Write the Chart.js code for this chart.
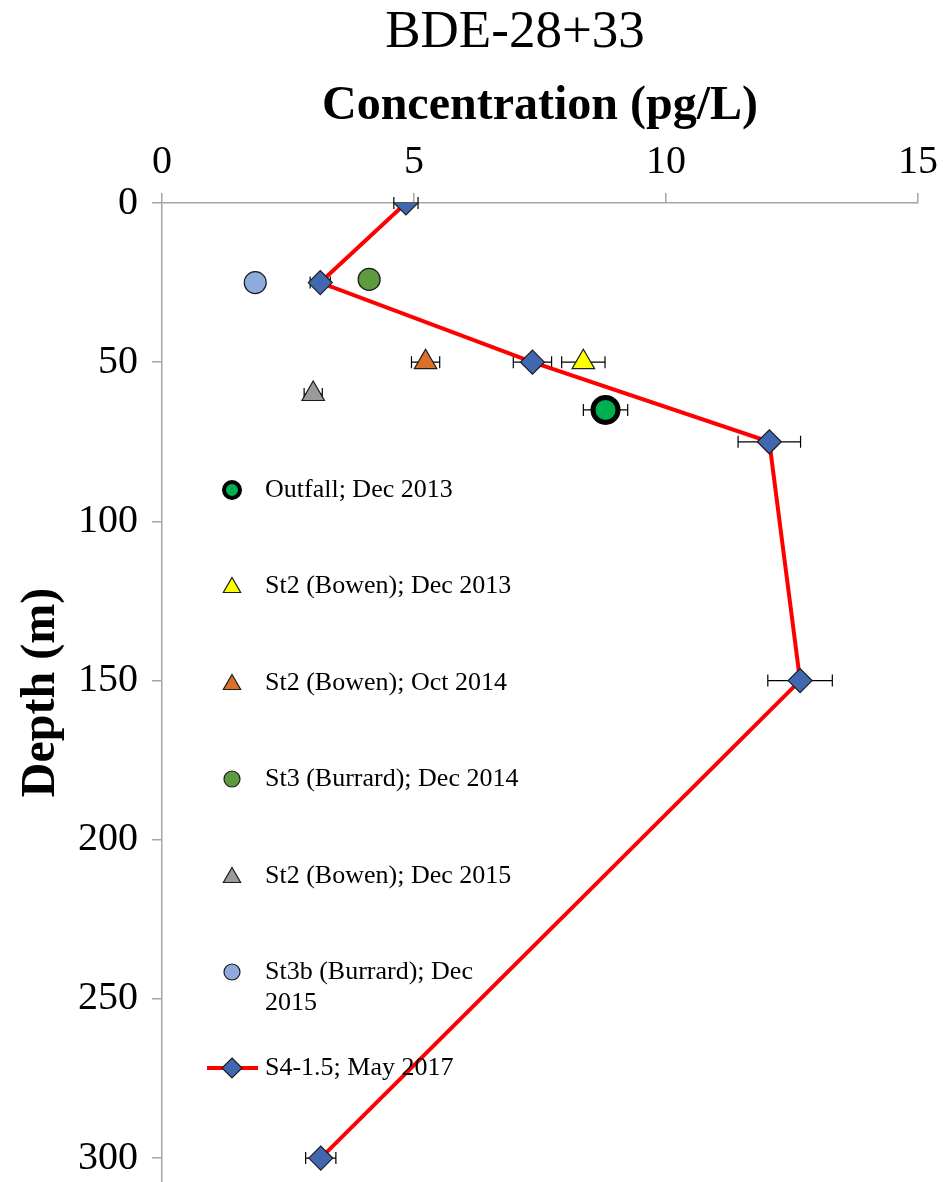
<!DOCTYPE html>
<html>
<head>
<meta charset="utf-8">
<script src="https://cdn.jsdelivr.net/npm/chart.js@4/dist/chart.umd.min.js"></script>
<style>
  html, body { margin: 0; padding: 0; background: #ffffff; overflow: hidden; }
  canvas { display: block; }
</style>
</head>
<body>
<canvas id="chart" width="951" height="1182"></canvas>
<script>
// BDE-28+33 concentration profiles (pg/L) against depth (m)
const chartTitle = 'BDE-28+33';
const xTicks = [0, 5, 10, 15];
const yTicks = [0, 50, 100, 150, 200, 250, 300];

const outfallDepth = [65];
const outfallConc  = [8.80];
const outfallErr   = [0.44];

const st2Dec13Depth = [50];
const st2Dec13Conc  = [8.36];
const st2Dec13Err   = [0.43];

const st2Oct14Depth = [50];
const st2Oct14Conc  = [5.23];
const st2Oct14Err   = [0.28];

const st3Dec14Depth = [24];
const st3Dec14Conc  = [4.11];
const st3Dec14Err   = [0.10];

const st2Dec15Depth = [60];
const st2Dec15Conc  = [3.00];
const st2Dec15Err   = [0.18];

const st3bDec15Depth = [25];
const st3bDec15Conc  = [1.85];
const st3bDec15Err   = [0];

const s4Depth = [0, 25, 50, 75, 150, 300];
const s4Conc  = [4.84, 3.14, 7.35, 12.05, 12.66, 3.15];
const s4Err   = [0.24, 0.20, 0.38, 0.62, 0.64, 0.30];

const seriesLabels = [
  'Outfall; Dec 2013',
  'St2 (Bowen); Dec 2013',
  'St2 (Bowen); Oct 2014',
  'St3 (Burrard); Dec 2014',
  'St2 (Bowen); Dec 2015',
  'St3b (Burrard); Dec 2015',
  'S4-1.5; May 2017'
];

const SERIF = "'Liberation Serif', 'Times New Roman', serif";

function points(xs, ys) {
  return xs.map((x, i) => ({ x: x, y: ys[i] }));
}

const datasets = [
  {
    label: seriesLabels[6],
    data: points(s4Conc, s4Depth),
    errors: s4Err,
    showLine: true,
    borderColor: '#ff0000',
    borderWidth: 4,
    pointStyle: 'rectRot',
    pointRadius: 12,
    pointBackgroundColor: '#4068b0',
    pointBorderColor: '#1c1c1c',
    pointBorderWidth: 1.2,
    legendMarker: { kind: 'diamond', r: 10, line: true }
  },
  {
    label: seriesLabels[0],
    data: points(outfallConc, outfallDepth),
    errors: outfallErr,
    pointStyle: 'circle',
    pointRadius: 12.5,
    pointBackgroundColor: '#00b050',
    pointBorderColor: '#000000',
    pointBorderWidth: 5,
    legendMarker: { kind: 'circle', r: 8, bw: 4 }
  },
  {
    label: seriesLabels[1],
    data: points(st2Dec13Conc, st2Dec13Depth),
    errors: st2Dec13Err,
    pointStyle: 'triangle',
    pointRadius: 13,
    pointBackgroundColor: '#ffff00',
    pointBorderColor: '#1c1c1c',
    pointBorderWidth: 1.2,
    legendMarker: { kind: 'triangle', r: 10 }
  },
  {
    label: seriesLabels[2],
    data: points(st2Oct14Conc, st2Oct14Depth),
    errors: st2Oct14Err,
    pointStyle: 'triangle',
    pointRadius: 13,
    pointBackgroundColor: '#d9712b',
    pointBorderColor: '#1c1c1c',
    pointBorderWidth: 1.2,
    legendMarker: { kind: 'triangle', r: 10 }
  },
  {
    label: seriesLabels[3],
    data: points(st3Dec14Conc, st3Dec14Depth),
    errors: st3Dec14Err,
    pointStyle: 'circle',
    pointRadius: 11,
    pointBackgroundColor: '#5e9a3e',
    pointBorderColor: '#1c1c1c',
    pointBorderWidth: 1.2,
    legendMarker: { kind: 'circle', r: 8, bw: 1.2 }
  },
  {
    label: seriesLabels[4],
    data: points(st2Dec15Conc, st2Dec15Depth),
    errors: st2Dec15Err,
    pointStyle: 'triangle',
    pointRadius: 13,
    pointBackgroundColor: '#9a9a9a',
    pointBorderColor: '#1c1c1c',
    pointBorderWidth: 1.2,
    legendMarker: { kind: 'triangle', r: 10 }
  },
  {
    label: seriesLabels[5],
    data: points(st3bDec15Conc, st3bDec15Depth),
    errors: st3bDec15Err,
    pointStyle: 'circle',
    pointRadius: 11,
    pointBackgroundColor: '#8faadc',
    pointBorderColor: '#1c1c1c',
    pointBorderWidth: 1.2,
    legendMarker: { kind: 'circle', r: 8, bw: 1.2 }
  }
];

// Chart heading, centred a little left of the plot area's middle
const heading = {
  id: 'heading',
  afterDraw(chart) {
    const { ctx } = chart;
    ctx.save();
    ctx.font = '53px ' + SERIF;
    ctx.fillStyle = '#000000';
    ctx.textAlign = 'center';
    ctx.textBaseline = 'middle';
    ctx.fillText(chartTitle, 515, 33);
    ctx.restore();
  }
};

// Horizontal error bars with end caps, drawn beneath the markers
const errorBars = {
  id: 'errorBars',
  beforeDatasetsDraw(chart) {
    const { ctx, scales: { x, y } } = chart;
    ctx.save();
    ctx.strokeStyle = '#000000';
    ctx.lineWidth = 1.2;
    chart.data.datasets.forEach(ds => {
      if (!ds.errors) return;
      ds.data.forEach((p, i) => {
        const e = ds.errors[i];
        if (!e) return;
        const py = y.getPixelForValue(p.y);
        const x0 = x.getPixelForValue(p.x - e);
        const x1 = x.getPixelForValue(p.x + e);
        ctx.beginPath();
        ctx.moveTo(x0, py); ctx.lineTo(x1, py);
        ctx.moveTo(x0, py - 6); ctx.lineTo(x0, py + 6);
        ctx.moveTo(x1, py - 6); ctx.lineTo(x1, py + 6);
        ctx.stroke();
      });
    });
    ctx.restore();
  }
};

// Legend laid out inside the plot area, one entry per series
const insideLegend = {
  id: 'insideLegend',
  afterDraw(chart) {
    const { ctx } = chart;
    const order = [1, 2, 3, 4, 5, 6, 0];
    const rows = [490, 586, 683, 779, 876, 972, 1068];
    const mx = 232, tx = 265;
    ctx.save();
    ctx.font = '26px ' + SERIF;
    ctx.fillStyle = '#000000';
    ctx.textBaseline = 'middle';
    ctx.textAlign = 'left';
    order.forEach((di, k) => {
      const ds = chart.data.datasets[di];
      const m = ds.legendMarker;
      const cy = rows[k];
      if (m.line) {
        ctx.strokeStyle = ds.borderColor;
        ctx.lineWidth = ds.borderWidth;
        ctx.beginPath();
        ctx.moveTo(mx - 25, cy); ctx.lineTo(mx + 26, cy);
        ctx.stroke();
      }
      ctx.fillStyle = ds.pointBackgroundColor;
      ctx.strokeStyle = ds.pointBorderColor;
      ctx.beginPath();
      if (m.kind === 'circle') {
        ctx.lineWidth = m.bw;
        ctx.arc(mx, cy, m.r, 0, Math.PI * 2);
      } else if (m.kind === 'triangle') {
        ctx.lineWidth = 1.2;
        const h = m.r * 1.5, w = m.r * Math.sqrt(3);
        ctx.moveTo(mx, cy - h / 2 - 1);
        ctx.lineTo(mx + w / 2, cy + h / 2 - 1);
        ctx.lineTo(mx - w / 2, cy + h / 2 - 1);
        ctx.closePath();
      } else {
        ctx.lineWidth = 1.2;
        ctx.moveTo(mx, cy - m.r);
        ctx.lineTo(mx + m.r, cy);
        ctx.lineTo(mx, cy + m.r);
        ctx.lineTo(mx - m.r, cy);
        ctx.closePath();
      }
      ctx.fill();
      ctx.stroke();
      ctx.fillStyle = '#000000';
      if (di === 6) {
        ctx.fillText('St3b (Burrard); Dec', tx, cy);
        ctx.fillText('2015', tx, cy + 31);
      } else {
        ctx.fillText(ds.label, tx, cy);
      }
    });
    ctx.restore();
  }
};

const axisGrey = '#a6a6a6';
const TOP_BLOCK = 66;

new Chart(document.getElementById('chart'), {
  type: 'scatter',
  data: { datasets: datasets },
  plugins: [errorBars, insideLegend, heading],
  options: {
    responsive: false,
    maintainAspectRatio: false,
    animation: false,
    layout: { autoPadding: false, padding: { left: 0, right: 33, top: TOP_BLOCK, bottom: 0 } },
    plugins: {
      legend: { display: false },
      tooltip: { enabled: false },
      title: { display: false }
    },
    scales: {
      x: {
        type: 'linear',
        position: 'top',
        min: xTicks[0],
        max: xTicks[xTicks.length - 1],
        afterBuildTicks(scale) { scale.ticks = xTicks.map(v => ({ value: v })); },
        ticks: { color: '#000000', font: { family: SERIF, size: 40 }, padding: 7, maxRotation: 0 },
        grid: { drawOnChartArea: false, drawTicks: true, tickLength: 10, color: axisGrey, lineWidth: 1.5 },
        border: { display: true, color: axisGrey, width: 1.5 },
        title: {
          display: true,
          text: 'Concentration (pg/L)',
          color: '#000000',
          font: { family: SERIF, size: 48, weight: 'bold', lineHeight: 1.2 },
          padding: { top: 12, bottom: 0 }
        },
        afterFit(scale) {
          scale.height = 203 - TOP_BLOCK;
          scale.paddingLeft = 0;
          scale.paddingRight = 0;
        }
      },
      y: {
        type: 'linear',
        reverse: true,
        min: 0,
        max: 307.5,
        afterBuildTicks(scale) { scale.ticks = yTicks.map(v => ({ value: v })); },
        ticks: { color: '#000000', font: { family: SERIF, size: 40 }, padding: 14 },
        grid: { drawOnChartArea: false, drawTicks: true, tickLength: 10, color: axisGrey, lineWidth: 1.5 },
        border: { display: true, color: axisGrey, width: 1.5 },
        title: {
          display: true,
          text: 'Depth (m)',
          color: '#000000',
          font: { family: SERIF, size: 48, weight: 'bold', lineHeight: 1.2 },
          padding: { top: 13, bottom: 0 }
        },
        afterFit(scale) {
          scale.width = 162;
          scale.paddingTop = 0;
          scale.paddingBottom = 0;
        }
      }
    }
  }
});
</script>
</body>
</html>
